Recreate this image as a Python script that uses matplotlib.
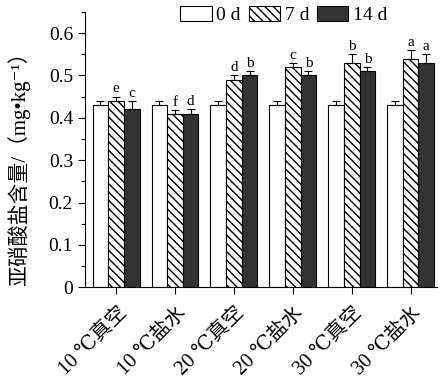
import matplotlib
matplotlib.use("Agg")
import numpy as np
import matplotlib.pyplot as plt
import matplotlib.transforms as mtransforms
from matplotlib.ticker import MultipleLocator

plt.rcParams['font.family'] = ['Liberation Serif', 'DejaVu Serif', 'Noto Sans CJK SC']
plt.rcParams['hatch.linewidth'] = 1.0

groups = ['10 ℃真空', '10 ℃盐水', '20 ℃真空', '20 ℃盐水', '30 ℃真空', '30 ℃盐水']
series = ['0 d', '7 d', '14 d']
vals_0d = [0.43, 0.43, 0.43, 0.43, 0.43, 0.43]
vals_7d = [0.44, 0.41, 0.49, 0.52, 0.53, 0.54]
vals_14d = [0.42, 0.41, 0.50, 0.50, 0.51, 0.53]
err_0d = [0.01, 0.01, 0.01, 0.01, 0.01, 0.01]
err_7d = [0.01, 0.008, 0.01, 0.01, 0.02, 0.02]
err_14d = [0.02, 0.01, 0.01, 0.01, 0.01, 0.02]
letters_7d = ['e', 'f', 'd', 'c', 'b', 'a']
letters_14d = ['c', 'd', 'b', 'b', 'b', 'a']

fig = plt.figure(figsize=(4.42, 3.86), dpi=100)
ax = fig.add_axes([0.192, 0.256, 0.797, 0.713])

x = np.arange(len(groups))
w = 0.265
styles = [dict(color='white', hatch=None), dict(color='white', hatch='\\\\\\\\'),
          dict(color='#333333', hatch=None)]
data = [vals_0d, vals_7d, vals_14d]
errs = [err_0d, err_7d, err_14d]
for i, (v, e, st) in enumerate(zip(data, errs, styles)):
    pos = x + (i - 1) * w
    ax.bar(pos, v, w, color=st['color'], edgecolor='black', hatch=st['hatch'],
           linewidth=0.8, label=series[i], zorder=2)
    ax.errorbar(pos, v, yerr=[np.zeros(len(v)), e], fmt='none', ecolor='black',
                elinewidth=0.8, capsize=3, capthick=0.8, zorder=3)

for i, (v, e, lab) in enumerate([(vals_7d, err_7d, letters_7d), (vals_14d, err_14d, letters_14d)]):
    pos = x + i * w
    for p, vv, ee, l in zip(pos, v, e, lab):
        ax.text(p, vv + ee + 0.003, l, ha='center', va='bottom', fontsize=11)

ax.set_xlim(-0.53, 5.45)
ax.set_ylim(0, 0.65)
ax.yaxis.set_minor_locator(MultipleLocator(0.05))
ax.set_yticks([0, 0.1, 0.2, 0.3, 0.4, 0.5, 0.6])
ax.set_yticklabels(['0', '0.1', '0.2', '0.3', '0.4', '0.5', '0.6'], fontsize=14)
ax.set_xticks(x)
ax.set_xticklabels([])
# rotated category labels, shifted right/down of each tick
offset = mtransforms.ScaledTranslation(1 / 72, -12 / 72, fig.dpi_scale_trans)
for xi, g in zip(x, groups):
    ax.text(xi, 0, g, transform=ax.get_xaxis_transform() + offset, rotation=45,
            ha='right', va='top', rotation_mode='anchor', fontsize=14.5)
ax.tick_params(axis='y', which='major', direction='out', length=5, width=0.8)
ax.tick_params(axis='y', which='minor', direction='out', length=3, width=0.8)
ax.tick_params(axis='x', direction='out', length=5, width=0.8)
ax.spines['top'].set_visible(False)
ax.spines['right'].set_visible(False)
ax.set_ylabel('亚硝酸盐含量/（mg•kg⁻¹）', fontsize=15)
ax.yaxis.set_label_coords(-0.156, 0.447)

ax.legend(loc='upper center', bbox_to_anchor=(0.565, 1.05), ncol=3, frameon=False,
          fontsize=14, handlelength=1.6, handleheight=0.8, handletextpad=0.25,
          columnspacing=0.4, borderaxespad=0)

fig.savefig('out.png', dpi=100)
